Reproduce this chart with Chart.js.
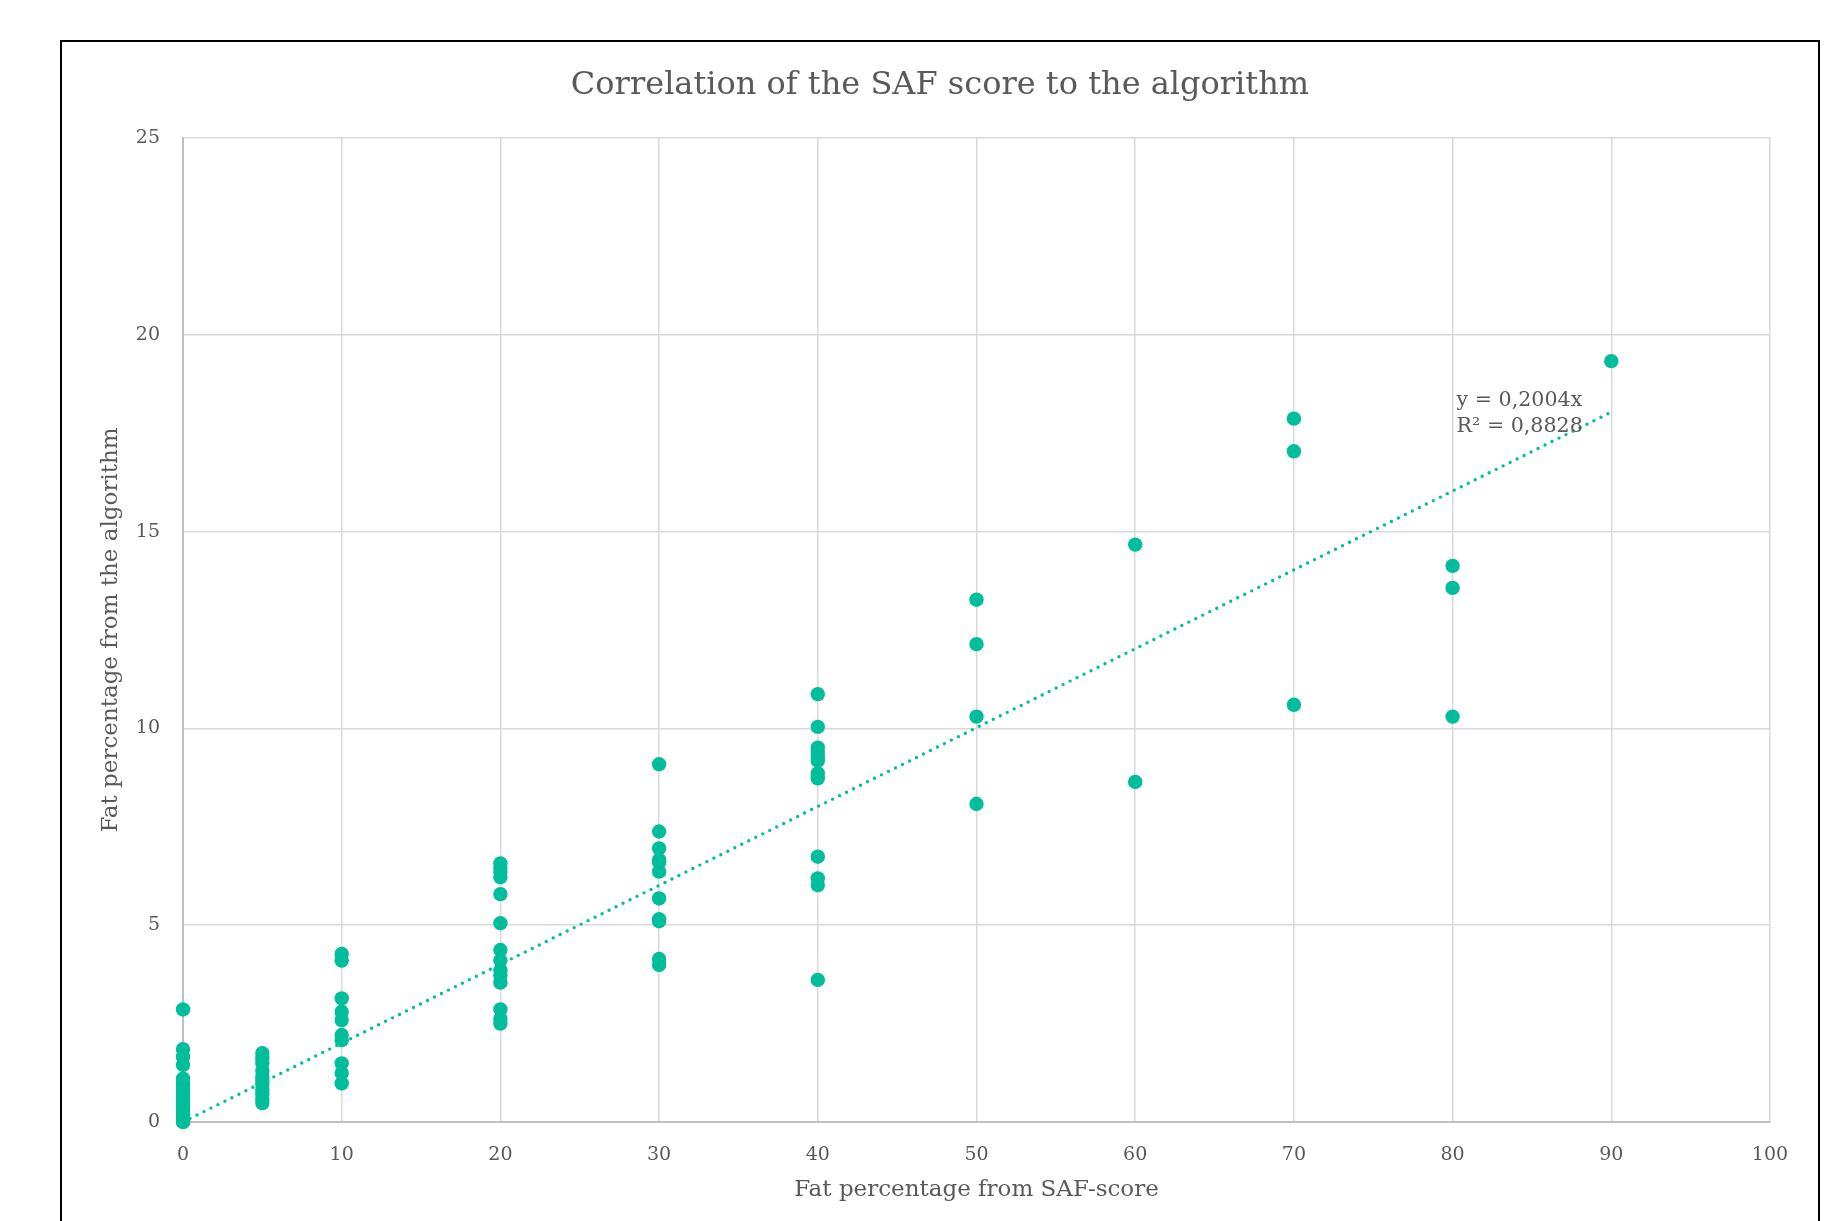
<!DOCTYPE html>
<html>
<head>
<meta charset="utf-8">
<title>SAF score correlation</title>
<script src="https://cdn.jsdelivr.net/npm/chart.js@4.4.1/dist/chart.umd.min.js"></script>
<style>
    html, body { margin: 0; padding: 0; background: #fff; overflow: hidden; }
    #wrap { position: relative; width: 1832px; height: 1221px; }
    #frame {
        position: absolute; left: 60px; top: 40px; width: 1760px; height: 1300px;
        border: 2px solid #000; box-sizing: border-box; pointer-events: none;
    }
</style>
</head>
<body>
<div id="wrap">
    <canvas id="saf_chart"></canvas>
    <div id="frame"></div>
</div>
<script>
// SAF score groups (x) and the algorithm's fat percentage read for each (y)
const safScores = [0, 5, 10, 20, 30, 40, 50, 60, 70, 80, 90];
const fatAt0 = [2.86, 1.85, 1.66, 1.45, 1.1, 1.0, 0.92, 0.84, 0.75, 0.66, 0.58, 0.5, 0.42, 0.34, 0.26, 0.18, 0.1, 0.05, 0.0, 0.0];
const fatAt5 = [1.75, 1.62, 1.5, 1.3, 1.15, 1.05, 0.95, 0.82, 0.7, 0.58, 0.48];
const fatAt10 = [4.27, 4.1, 3.14, 2.8, 2.59, 2.21, 2.08, 1.49, 1.24, 0.98];
const fatAt20 = [6.57, 6.45, 6.35, 6.22, 5.79, 5.05, 4.37, 4.1, 3.85, 3.72, 3.54, 2.86, 2.62, 2.5];
const fatAt30 = [9.09, 7.38, 6.95, 6.66, 6.6, 6.36, 5.68, 5.15, 5.1, 4.14, 3.99];
const fatAt40 = [10.87, 10.04, 9.51, 9.4, 9.28, 9.18, 8.86, 8.73, 6.74, 6.19, 6.02, 3.61];
const fatAt50 = [13.27, 12.14, 10.3, 8.08];
const fatAt60 = [14.67, 8.64];
const fatAt70 = [17.87, 17.04, 10.6];
const fatAt80 = [14.13, 13.57, 10.3];
const fatAt90 = [19.33];
const fatGroups = [fatAt0, fatAt5, fatAt10, fatAt20, fatAt30, fatAt40, fatAt50, fatAt60, fatAt70, fatAt80, fatAt90];

// linear trendline through the origin (as printed on the chart)
const trendSlope = 0.2004;
const trendRSquared = 0.8828;
const trendRange = [0, 90];

const xTicks = [0, 10, 20, 30, 40, 50, 60, 70, 80, 90, 100];
const yTicks = [0, 5, 10, 15, 20, 25];

const points = [];
safScores.forEach((score, i) => {
    fatGroups[i].forEach((fat) => points.push({ x: score, y: fat }));
});
const trendPoints = trendRange.map((x) => ({ x: x, y: trendSlope * x }));

const teal = "#00bd9c";
const textGrey = "#595959";
const serif = "'DejaVu Serif', 'Liberation Serif', serif";

Chart.defaults.font.family = serif;
Chart.defaults.color = textGrey;

const commaNum = (v) => String(v).replace(".", ",");

// Excel-style equation label next to the end of the trendline
const trendLabel = {
    id: "trendLabel",
    afterDatasetsDraw(chart) {
        const { ctx, scales } = chart;
        const left = scales.x.getPixelForValue(80) + 4;
        const top = scales.y.getPixelForValue(18.33);
        ctx.save();
        ctx.font = "20.6px " + serif;
        ctx.fillStyle = textGrey;
        ctx.textAlign = "left";
        ctx.textBaseline = "middle";
        ctx.fillText("y = " + commaNum(trendSlope) + "x", left, top);
        ctx.fillText("R\u00b2 = " + commaNum(trendRSquared), left, top + 26);
        ctx.restore();
    },
};

const saf_chart = document.getElementById("saf_chart");
new Chart(saf_chart, {
    type: "scatter",
    data: {
        datasets: [
            {
                data: points,
                backgroundColor: teal,
                borderColor: teal,
                borderWidth: 0,
                pointRadius: 7.2,
                clip: false,
                order: 1,
            },
            {
                data: trendPoints,
                showLine: true,
                borderColor: teal,
                borderWidth: 3.4,
                borderDash: [0, 7.8],
                borderCapStyle: "round",
                pointRadius: 0,
                clip: false,
                order: 0,
            },
        ],
    },
    options: {
        responsive: true,
        maintainAspectRatio: false,
        animation: false,
        layout: {
            // left padding puts the title's centre in the middle of the frame
            padding: { left: 110, right: 62, top: 0, bottom: 0 },
        },
        plugins: {
            legend: { display: false },
            tooltip: { enabled: false },
            title: {
                display: true,
                text: "Correlation of the SAF score to the algorithm",
                color: textGrey,
                font: { size: 32, weight: "normal" },
                padding: { top: 66.5, bottom: 33.1 },
            },
        },
        scales: {
            x: {
                type: "linear",
                min: 0,
                max: 100,
                afterBuildTicks: (axis) => {
                    axis.ticks = xTicks.map((v) => ({ value: v }));
                },
                afterFit: (axis) => {
                    axis.height = 99;
                },
                ticks: {
                    font: { size: 19 },
                    padding: 21.5,
                    maxRotation: 0,
                },
                grid: { color: "#d9d9d9", lineWidth: 1.5, drawTicks: false },
                border: { color: "#bfbfbf", width: 2 },
                title: {
                    display: true,
                    text: "Fat percentage from SAF-score",
                    font: { size: 23 },
                    padding: { top: 0, bottom: 17.5 },
                },
            },
            y: {
                type: "linear",
                min: 0,
                max: 25,
                afterBuildTicks: (axis) => {
                    axis.ticks = yTicks.map((v) => ({ value: v }));
                },
                afterFit: (axis) => {
                    axis.width = 73;
                },
                ticks: {
                    font: { size: 19 },
                    padding: 23,
                },
                grid: { color: "#d9d9d9", lineWidth: 1.5, drawTicks: false },
                border: { color: "#bfbfbf", width: 2 },
                title: {
                    display: true,
                    text: "Fat percentage from the algorithm",
                    font: { size: 23 },
                    padding: { top: -12.8, bottom: 0 },
                },
            },
        },
    },
    plugins: [trendLabel],
});
</script>
</body>
</html>
